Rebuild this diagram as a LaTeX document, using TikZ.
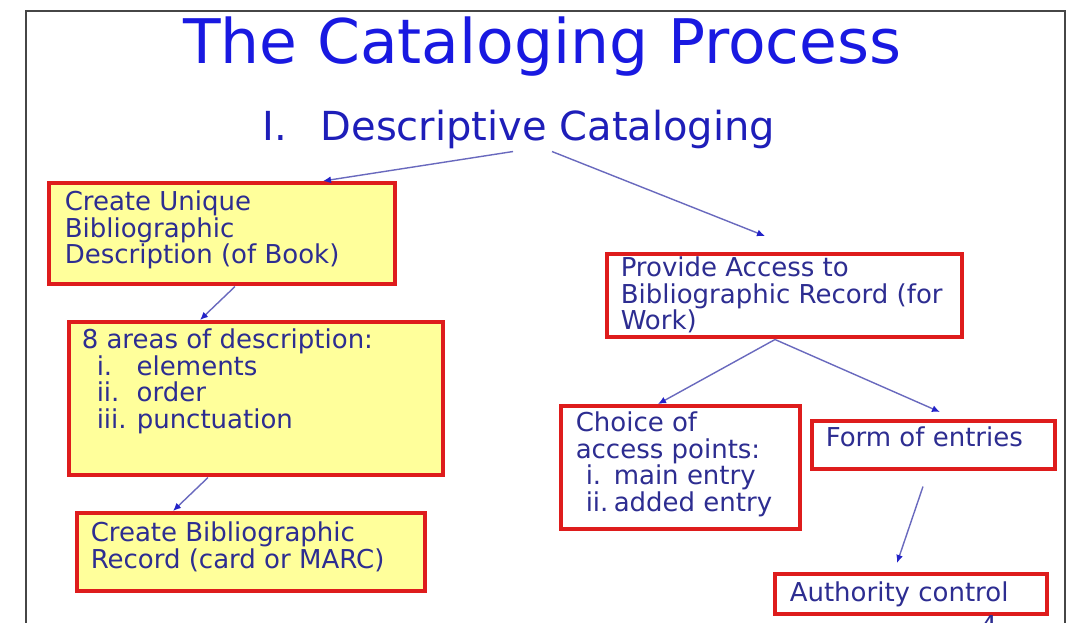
\documentclass[tikz,border=0pt]{standalone}
\usepackage{fontspec}
\setmainfont{DejaVu Sans}
\usetikzlibrary{arrows.meta,calc}
\definecolor{titleblue}{RGB}{25,25,225}
\definecolor{subblue}{RGB}{30,30,185}
\definecolor{txtnavy}{RGB}{45,45,145}
\definecolor{boxred}{RGB}{222,28,28}
\definecolor{boxyellow}{RGB}{255,255,155}
\definecolor{lineblue}{RGB}{105,105,190}
\definecolor{tipblue}{RGB}{35,35,200}
\definecolor{framegray}{RGB}{70,70,70}
% #1 width, #2 height, #3 left padding, #4 top padding, #5 text
\newcommand\boxcontent[5]{\parbox[c][#2pt][t]{#1pt}{\fontsize{26}{26.5}\selectfont\leftskip=#3pt\relax\vspace*{#4pt}\rule{0pt}{20pt}#5\par}}
\newcommand\myitem[4]{\hspace*{#1pt}\makebox[#2pt][l]{#3}#4}
\tikzset{
  rbox/.style={draw=boxred, line width=3.5pt, inner sep=0pt, anchor=north west, text=txtnavy},
  ybox/.style={rbox, fill=boxyellow},
  wbox/.style={rbox, fill=white},
  conn/.style={draw=lineblue, line width=1.4pt, -{Latex[length=8pt,width=7pt,color=tipblue]}},
  plain/.style={inner sep=0pt, anchor=base west}
}
\begin{document}
\begin{tikzpicture}[x=1pt,y=-1pt]
\useasboundingbox[fill=white] (0,0) rectangle (1068,622);
\draw[framegray, line width=2pt] (26,640) -- (26,11) -- (1065,11) -- (1065,640);

\node[plain, text=titleblue, font=\fontsize{61.5}{70}\selectfont] (title) at (183,63) {The Cataloging Process};
\node[plain, text=subblue, font=\fontsize{40}{46}\selectfont] (sub) at (262,140) {I.\hspace{34pt}Descriptive Cataloging};

\node[ybox] (b1) at (47,181) {\boxcontent{346}{101}{16}{8}{Create Unique\\Bibliographic\\Description (of Book)}};
\node[ybox] (b2) at (67,320) {\boxcontent{374}{153}{13}{7}{8 areas of description:\\\myitem{15}{40}{i.}{elements}\\\myitem{15}{40}{ii.}{order}\\\myitem{15}{40}{iii.}{punctuation}}};
\node[ybox] (b3) at (75,511) {\boxcontent{348}{78}{14}{9}{Create Bibliographic\\Record (card or MARC)}};
\node[wbox] (b4) at (605,252) {\boxcontent{355}{83}{14}{3}{Provide Access to\\Bibliographic Record (for\\Work)}};
\node[wbox] (b5) at (559,404) {\boxcontent{239}{123}{15}{6}{Choice of\\access points:\\\myitem{10}{28}{i.}{main entry}\\\myitem{10}{28}{ii.}{added entry}}};
\node[wbox] (b6) at (810,419) {\boxcontent{243}{48}{14}{6}{Form of entries}};
\node[wbox] (b7) at (773,572) {\boxcontent{272}{40}{15}{8}{Authority control}};

\node[inner sep=0pt, anchor=north, text=txtnavy, font=\fontsize{26}{26.5}\selectfont] (pg) at (989,615) {4};

\draw[conn] ($(sub.south west)+(251,3)$) -- ($(b1.north west)+(276,0)$);
\draw[conn] ($(sub.south west)+(290,3)$) -- ($(b4.north west)+(160,-16)$);
\draw[conn] ($(b1.south west)+(188,1)$) -- ($(b2.north west)+(133,0)$);
\draw[conn] ($(b2.south west)+(141,1)$) -- ($(b3.north west)+(98,0)$);
\draw[conn] ($(b4.south west)+(170,1)$) -- ($(b5.north west)+(99,0)$);
\draw[conn] ($(b4.south west)+(170,1)$) -- ($(b6.north west)+(130,-7)$);
\draw[conn] ($(b6.south west)+(113,16)$) -- ($(b7.north west)+(124,-9)$);
\end{tikzpicture}
\end{document}
